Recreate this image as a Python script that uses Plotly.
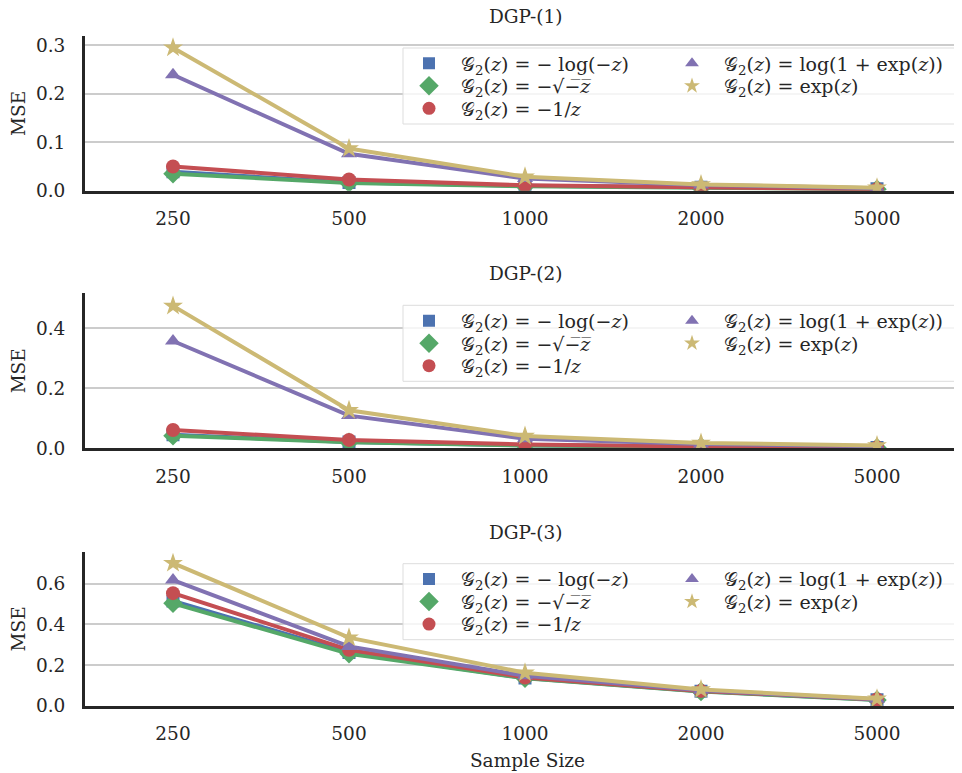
import plotly.graph_objects as go
from plotly.subplots import make_subplots

# Sample sizes (categorical x axis)
sizes = ["250", "500", "1000", "2000", "5000"]

# MSE, one list per link function
dgp1_log = [0.039, 0.017, 0.010, 0.007, 0.004]
dgp1_sqrt = [0.035, 0.016, 0.009, 0.005, 0.003]
dgp1_inv = [0.050, 0.023, 0.011, 0.006, 0.003]
dgp1_softplus = [0.239, 0.076, 0.025, 0.012, 0.005]
dgp1_exp = [0.295, 0.087, 0.029, 0.013, 0.006]

dgp2_log = [0.045, 0.021, 0.010, 0.005, 0.003]
dgp2_sqrt = [0.042, 0.020, 0.009, 0.005, 0.002]
dgp2_inv = [0.061, 0.028, 0.013, 0.006, 0.003]
dgp2_softplus = [0.358, 0.109, 0.032, 0.014, 0.007]
dgp2_exp = [0.475, 0.127, 0.041, 0.018, 0.009]

dgp3_log = [0.515, 0.262, 0.137, 0.072, 0.031]
dgp3_sqrt = [0.503, 0.256, 0.136, 0.071, 0.030]
dgp3_inv = [0.553, 0.275, 0.140, 0.074, 0.032]
dgp3_softplus = [0.617, 0.292, 0.148, 0.077, 0.033]
dgp3_exp = [0.700, 0.335, 0.163, 0.081, 0.035]

panel_titles = ["DGP-(1)", "DGP-(2)", "DGP-(3)"]

G2 = "&nbsp;&nbsp;𝒢<sub>2</sub>(<i>z</i>)&nbsp;=&nbsp;"
labels = [
    G2 + "−&nbsp;log(−<i>z</i>)",
    G2 + "−√−\u0305<i>z\u0305</i>",
    G2 + "−1/<i>z</i>",
    G2 + "log(1&nbsp;+&nbsp;exp(<i>z</i>))",
    G2 + "exp(<i>z</i>)",
]
colors = ["#4C72B0", "#55A868", "#C44E52", "#8172B2", "#CCB974"]
symbols = ["square", "diamond", "circle", "triangle-up", "star"]
msizes = [13, 15, 14, 14, 15]
leg_sizes = [12, 15, 13, 12, 12]
# matplotlib legend with ncol=2: (column, row) of each entry
leg_slots = [(0, 0), (0, 1), (0, 2), (1, 0), (1, 1)]

panels = [
    [dgp1_log, dgp1_sqrt, dgp1_inv, dgp1_softplus, dgp1_exp],
    [dgp2_log, dgp2_sqrt, dgp2_inv, dgp2_softplus, dgp2_exp],
    [dgp3_log, dgp3_sqrt, dgp3_inv, dgp3_softplus, dgp3_exp],
]

W, H = 962, 773
L = 77          # left margin
PW = W - L      # plot width
OFF = 8         # page offset of the plot div
FONT = "DejaVu Serif"
INK = "#262626"


def px_x(sx):
    return (sx - OFF - L) / PW


def px_y(sy):
    return 1 - (sy - OFF) / H


# axes boxes in screen pixels (top, bottom)
boxes = [(36, 190.7), (293.3, 448.3), (551.7, 706)]
yranges = [0.319, 0.517, 0.756]
dticks = [0.1, 0.2, 0.2]

fig = make_subplots(rows=3, cols=1)

fig.update_layout(
    width=W, height=H,
    template="none",
    plot_bgcolor="white", paper_bgcolor="white",
    margin=dict(l=L, r=0, t=0, b=0),
    font=dict(family=FONT, size=18.5, color=INK),
)

n_leg = 0
for r, series in enumerate(panels, start=1):
    top, bot = boxes[r - 1]
    for i, ys in enumerate(series):
        fig.add_trace(go.Scatter(
            x=sizes, y=ys, mode="lines+markers",
            line=dict(color=colors[i], width=4),
            marker=dict(symbol=symbols[i], size=msizes[i], color=colors[i]),
            showlegend=False, hoverinfo="skip",
        ), row=r, col=1)
    # marker-only legend entries, one small legend per slot
    for i in range(5):
        n_leg += 1
        name = "legend" if n_leg == 1 else "legend%d" % n_leg
        c, rw = leg_slots[i]
        fig.add_trace(go.Scatter(
            x=[None], y=[None], mode="markers", name=labels[i],
            marker=dict(symbol=symbols[i], size=leg_sizes[i], color=colors[i]),
            legend=name,
        ), row=r, col=1)
        fig.layout[name] = dict(
            x=px_x(409 + 263 * c), xanchor="left", xref="paper",
            y=px_y(top + 27.5 + 22.5 * rw), yanchor="middle", yref="paper",
            bgcolor="rgba(0,0,0,0)", borderwidth=0,
            font=dict(size=19, family=FONT, color=INK),
        )

for k in range(3):
    top, bot = boxes[k]
    ax = "" if k == 0 else str(k + 1)
    fig.layout["yaxis" + ax].update(
        domain=[px_y(bot), px_y(top)],
        range=[0, yranges[k]], dtick=dticks[k], tick0=0, tickformat=".1f",
        showgrid=True, gridcolor="#cccccc", gridwidth=1.5,
        showline=True, linecolor=INK, linewidth=3,
        zeroline=False, ticks="", ticklabelstandoff=13, automargin=False,
        title=dict(text="MSE", font=dict(size=18.5), standoff=6),
    )
    fig.layout["xaxis" + ax].update(
        domain=[0, 1], range=[-0.5, -0.5 + PW / 176], type="category",
        showgrid=False, showline=True, linecolor=INK, linewidth=3,
        zeroline=False, ticks="", ticklabelstandoff=9, automargin=False,
    )
    fig.add_annotation(
        text=panel_titles[k], xref="paper", yref="paper",
        x=px_x(526), y=px_y(top - 19.5), xanchor="center", yanchor="middle",
        showarrow=False, font=dict(size=18.5, family=FONT, color=INK),
    )
    # legend frame, drawn over the lines like matplotlib's
    fig.add_shape(
        type="rect", xref="paper", yref="paper", layer="above",
        x0=px_x(403), x1=px_x(956), y0=px_y(top + 88), y1=px_y(top + 12),
        fillcolor="rgba(255,255,255,0.8)", line=dict(color="#dddddd", width=1),
    )

fig.layout.xaxis3.title = dict(text="Sample Size", font=dict(size=18.5), standoff=11)

fig.write_html("out.html")
